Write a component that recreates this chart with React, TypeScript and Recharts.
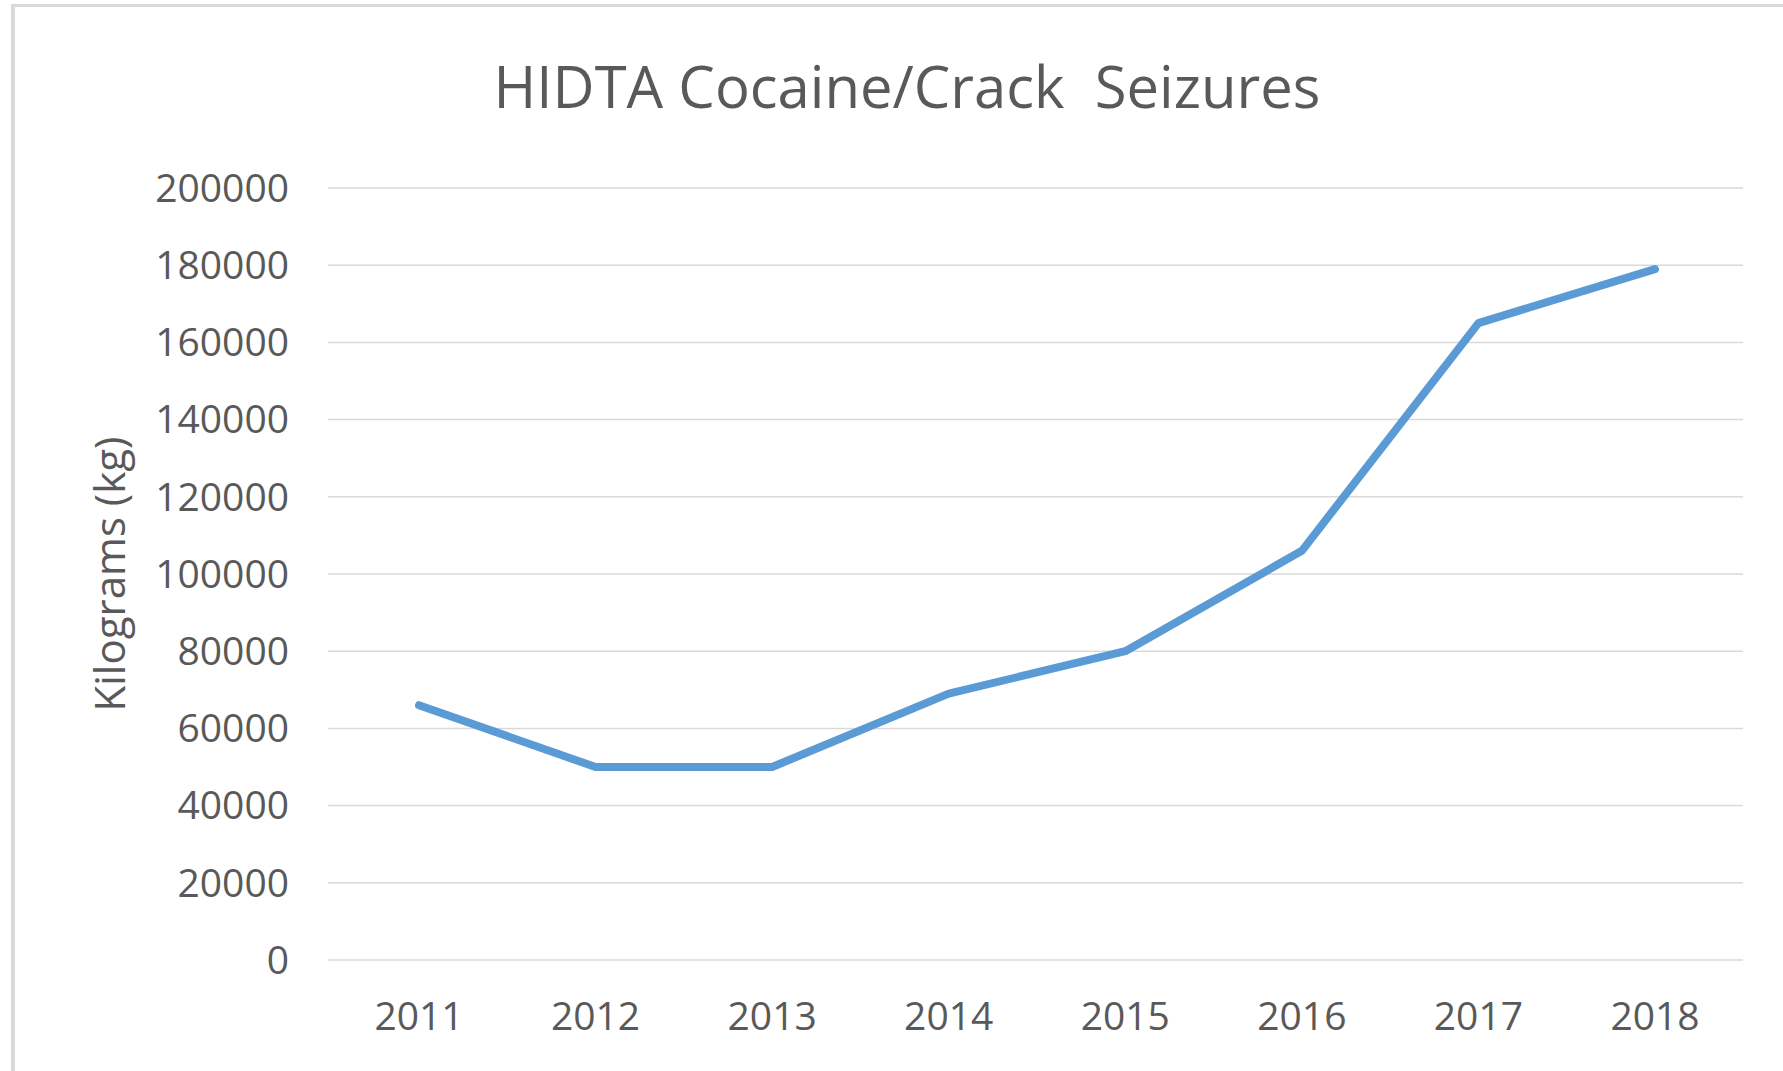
import { LineChart, Line, XAxis, YAxis, CartesianGrid, Label } from "recharts";

const years = ["2011", "2012", "2013", "2014", "2015", "2016", "2017", "2018"];
const seizuresKg = [66000, 50000, 50000, 69000, 80000, 106000, 165000, 179000];
const yTicks = [0, 20000, 40000, 60000, 80000, 100000, 120000, 140000, 160000, 180000, 200000];

const data = years.map((year, i) => ({ year, kg: seizuresKg[i] }));

const font = "'Open Sans', sans-serif";
const textColor = "#595959";

export default function App() {
  return (
    <div
      style={{
        position: "absolute",
        top: 0,
        left: 0,
        width: "1783px",
        height: "1071px",
        background: "#ffffff",
        overflow: "hidden",
        fontFamily: font,
      }}
    >
      {/* chart frame, only top and left edges show in the crop */}
      <div
        style={{
          position: "absolute",
          left: "11px",
          top: "4px",
          width: "1800px",
          height: "1100px",
          borderTop: "3px solid #d9d9d9",
          borderLeft: "4px solid #d9d9d9",
        }}
      />
      <div style={{ position: "absolute", left: 0, top: 0 }}>
        <LineChart
          width={1783}
          height={1071}
          data={data}
          margin={{ top: 188, right: 40, left: 0, bottom: 0 }}
        >
          <CartesianGrid
            vertical={false}
            stroke="#d9d9d9"
            strokeWidth={1.5}
          />
          <XAxis
            dataKey="year"
            height={111}
            axisLine={false}
            tickLine={false}
            tickSize={0}
            tickMargin={42}
            padding={{ left: 91, right: 88 }}
            tick={{ fill: textColor, fontSize: 39, fontFamily: font }}
          />
          <YAxis
            width={328}
            domain={[0, 200000]}
            ticks={yTicks}
            interval={0}
            axisLine={false}
            tickLine={false}
            tickSize={0}
            tickMargin={39}
            tick={{ fill: textColor, fontSize: 39, fontFamily: font }}
          >
            <Label
              value="Kilograms (kg)"
              angle={-90}
              position="insideLeft"
              offset={110}
              textAnchor="middle"
              style={{ fill: textColor, fontSize: 42, fontFamily: font }}
            />
          </YAxis>
          <Line
            type="linear"
            dataKey="kg"
            stroke="#5b9bd5"
            strokeWidth={8}
            strokeLinecap="round"
            strokeLinejoin="round"
            dot={false}
            activeDot={false}
            isAnimationActive={false}
          />
        </LineChart>
      </div>
      <svg
        width={1783}
        height={160}
        style={{ position: "absolute", left: 0, top: 0, pointerEvents: "none" }}
      >
        <text
          x={907}
          y={108}
          textAnchor="middle"
          fill={textColor}
          fontSize={58}
          fontFamily={font}
          style={{ whiteSpace: "pre" }}
        >
          HIDTA Cocaine/Crack  Seizures
        </text>
      </svg>
    </div>
  );
}
